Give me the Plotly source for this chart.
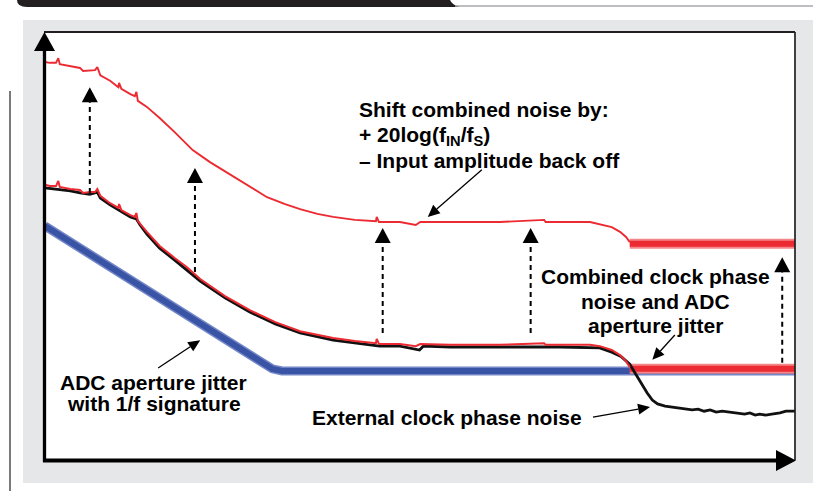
import math
import plotly.graph_objects as go

# 横轴: 相对频率位置 (0-100), 纵轴: 噪声电平 (任意单位 0-100)

# 上移后的组合噪声 (红色, 上)
shifted_x = [0.1, 0.8, 1.6, 1.9, 2.1, 3.5, 4.8, 5.2, 6.1, 6.8, 7.1, 7.5, 8.8, 9.9, 10.0, 10.3,
             11.5, 12.1, 12.3, 12.5, 13.7, 15.4, 17.4, 19.8, 22.1, 24.4, 26.8, 29.7, 32.1, 34.1,
             36.4, 38.5, 41.4, 44.2, 44.3, 44.6, 47.4, 49.5, 50.1, 54.1, 60.7, 66.6, 66.8, 72.7,
             74.0, 75.6, 76.7, 77.5, 78.0]
shifted_y = [93.0, 92.8, 92.8, 93.9, 92.5, 92.1, 91.6, 90.9, 91.1, 91.1, 91.8, 89.9, 88.6, 87.1,
             88.1, 86.7, 85.5, 85.0, 86.0, 83.9, 82.5, 79.9, 76.6, 72.4, 69.6, 67.1, 64.5, 61.4,
             59.8, 58.6, 57.5, 56.8, 56.1, 55.8, 56.8, 55.6, 55.6, 54.9, 55.6, 55.6, 55.6, 56.1,
             55.6, 55.6, 55.1, 54.4, 53.3, 52.1, 50.9]
shifted_floor_x = [78.0, 100]
shifted_floor_y = [50.5, 50.5]

# 时钟相位噪声 + ADC 孔径抖动 (红色, 下)
combined_x = [0.1, 0.8, 1.6, 1.9, 2.1, 3.5, 4.8, 5.2, 6.1, 6.8, 7.1, 7.5, 8.8, 9.9, 10.0, 10.3,
              11.5, 12.1, 12.3, 12.5, 13.7, 15.4, 17.4, 19.0, 20.8, 24.1, 27.4, 30.8, 34.1, 38.5,
              41.4, 44.2, 44.3, 44.6, 47.4, 49.5, 50.1, 54.1, 60.7, 66.6, 66.8, 72.7, 74.0, 75.6,
              76.7, 77.5, 78.0]
combined_y = [64.3, 64.0, 64.0, 65.2, 63.8, 63.3, 63.1, 62.4, 62.6, 62.6, 63.3, 61.7, 60.0, 58.9,
              59.8, 58.4, 57.2, 56.8, 57.7, 55.8, 53.3, 50.0, 47.2, 45.1, 42.3, 38.3, 35.0, 32.2,
              30.1, 28.5, 27.8, 27.3, 28.3, 27.1, 27.1, 26.6, 27.1, 26.9, 26.9, 27.3, 26.9, 26.9,
              26.6, 25.7, 24.5, 23.1, 21.7]
combined_floor_x = [78.0, 100]
combined_floor_y = [21.3, 21.3]

# 外部时钟相位噪声 (黑色)
clock_x = [0.1, 1.5, 2.1, 3.5, 4.8, 6.1, 7.1, 7.5, 8.8, 10.1, 11.5, 12.3, 12.8, 13.7, 15.4, 17.4,
           19.0, 20.8, 24.1, 27.4, 30.8, 34.1, 38.5, 41.4, 44.7, 47.4, 50.0, 50.5, 54.1, 60.7,
           68.7, 74.0, 75.6, 76.9, 78.0, 78.6, 79.4, 80.3, 81.0, 81.7, 82.7, 83.6, 84.4, 85.4,
           86.3, 87.1, 87.9, 88.7, 89.5, 90.3, 91.3, 92.4, 93.3, 94.0, 94.7, 95.3, 96.1, 96.9,
           98.0, 98.8, 100]
clock_y = [63.6, 63.3, 63.1, 62.9, 62.4, 62.1, 62.6, 61.2, 59.6, 58.2, 56.8, 56.3, 54.9, 52.8,
           49.5, 46.7, 44.4, 41.8, 37.9, 34.6, 31.8, 29.7, 28.0, 27.3, 26.6, 26.6, 25.7, 26.6,
           26.4, 26.4, 26.4, 26.2, 25.2, 24.1, 22.4, 20.6, 18.2, 15.7, 14.0, 13.1, 12.6, 12.4,
           12.1, 11.9, 11.7, 11.9, 11.4, 11.7, 11.2, 11.4, 11.2, 11.0, 10.7, 11.0, 10.5, 10.7,
           10.5, 10.7, 11.0, 11.4, 11.4]

# ADC 孔径抖动 (蓝色, 1/f 特征)
aperture_x = [0.1, 29.0, 30.4, 31.7, 100]
aperture_y = [54.7, 22.7, 21.3, 20.8, 20.8]

# 虚线箭头: x 位置, 起点, 终点
shift_arrow_x = [6.1, 20.1, 45.1, 64.8, 98.3]
shift_arrow_from = [62.4, 43.9, 29.7, 29.7, 22.7]
shift_arrow_to = [87.1, 68.2, 54.2, 54.2, 47.4]

shift_lines = ["Shift combined noise by:", "+ 20log(f<sub>IN</sub>/f<sub>S</sub>)",
               "\u2013 Input amplitude back off"]
combined_lines = ["Combined clock phase", "noise and ADC", "aperture jitter"]
aperture_lines = ["ADC aperture jitter", "with 1/f signature"]
clock_label = "External clock phase noise"

RED = "#ec2a31"
BLUE = "#3a54a5"
FONT = "Liberation Sans, Arial, sans-serif"

# 每个数据单位对应的像素 (绘图区 751 x 428 px)
X_PX = 7.51
Y_PX = 4.28


def px(x):
    """像素 -> paper x"""
    return (x - 44) / 751


def py(y):
    """像素 -> paper y"""
    return (460 - y) / 428


fig = go.Figure()

# 蓝色孔径抖动带
fig.add_trace(go.Scatter(x=aperture_x, y=aperture_y, mode="lines",
                         line=dict(color="#7387c8", width=9), hoverinfo="skip"))
fig.add_trace(go.Scatter(x=aperture_x, y=aperture_y, mode="lines",
                         line=dict(color=BLUE, width=6), hoverinfo="skip"))

# 红色噪声底
for fx, fy in [(shifted_floor_x, shifted_floor_y), (combined_floor_x, combined_floor_y)]:
    fig.add_trace(go.Scatter(x=fx, y=fy, mode="lines",
                             line=dict(color="#f4868a", width=10), hoverinfo="skip"))
    fig.add_trace(go.Scatter(x=fx, y=fy, mode="lines",
                             line=dict(color=RED, width=6), hoverinfo="skip"))

# 黑色外部时钟
fig.add_trace(go.Scatter(x=clock_x, y=clock_y, mode="lines",
                         line=dict(color="#111111", width=2.8), hoverinfo="skip"))
# 红色组合噪声
fig.add_trace(go.Scatter(x=combined_x, y=combined_y, mode="lines",
                         line=dict(color=RED, width=2), hoverinfo="skip"))
fig.add_trace(go.Scatter(x=shifted_x, y=shifted_y, mode="lines",
                         line=dict(color=RED, width=1.9), hoverinfo="skip"))

shapes = []
# 灰色底板 + 白色绘图区
shapes.append(dict(type="rect", xref="paper", yref="paper", x0=px(23), x1=px(820),
                   y0=py(483), y1=py(20), fillcolor="#e6e7e8", line_width=0, layer="below"))
shapes.append(dict(type="rect", xref="paper", yref="paper", x0=0, x1=1, y0=0, y1=1,
                   fillcolor="white", line_width=0, layer="below"))
# 左侧竖线
shapes.append(dict(type="line", xref="paper", yref="paper", x0=px(10), x1=px(10),
                   y0=py(91), y1=py(495), line=dict(color="#7a7a7a", width=2)))
# 顶部深色标题条
shapes.append(dict(type="path", xref="paper", yref="paper",
                   path=f"M{px(17)},{py(-4)} L{px(17)},{py(0)} Q{px(17)},{py(7)} {px(27)},{py(7)} "
                        f"L{px(460)},{py(7)} Q{px(452)},{py(5)} {px(450)},{py(0)} L{px(450)},{py(-4)} Z",
                   fillcolor="#231f20", line_width=0))
shapes.append(dict(type="line", xref="paper", yref="paper", x0=px(455), x1=px(820),
                   y0=py(6), y1=py(6), line=dict(color="#a7a9ac", width=1.5)))
# 边框与坐标轴
shapes.append(dict(type="line", xref="paper", yref="paper", x0=0, x1=1, y0=1, y1=1,
                   line=dict(color="#231f20", width=2)))
shapes.append(dict(type="line", xref="paper", yref="paper", x0=1, x1=1, y0=0, y1=1,
                   line=dict(color="#231f20", width=1.7)))
shapes.append(dict(type="line", xref="paper", yref="paper", x0=px(44.5), x1=px(44.5),
                   y0=py(462), y1=py(48), line=dict(color="black", width=3.3)))
shapes.append(dict(type="line", xref="paper", yref="paper", x0=px(43), x1=px(780),
                   y0=py(460.5), y1=py(460.5), line=dict(color="black", width=4)))
shapes.append(dict(type="path", xref="paper", yref="paper",
                   path=f"M{px(44.5)},{py(32)} L{px(34)},{py(51)} L{px(55)},{py(51)} Z",
                   fillcolor="black", line_width=0))
shapes.append(dict(type="path", xref="paper", yref="paper",
                   path=f"M{px(796)},{py(460.5)} L{px(776)},{py(450)} L{px(776)},{py(471)} Z",
                   fillcolor="black", line_width=0))


def add_arrow(tx, ty, hx, hy, head_len, head_half, width, dash=None):
    """从 (tx,ty) 指向 (hx,hy) 的箭头, 箭头尺寸按像素算"""
    dx = (hx - tx) * X_PX
    dy = (hy - ty) * Y_PX
    n = math.hypot(dx, dy)
    ux, uy = dx / n, dy / n
    bx = hx - ux * head_len / X_PX
    by = hy - uy * head_len / Y_PX
    lx, ly = bx - uy * head_half / X_PX, by + ux * head_half / Y_PX
    rx, ry = bx + uy * head_half / X_PX, by - ux * head_half / Y_PX
    line = dict(color="black", width=width)
    if dash:
        line["dash"] = dash
    shapes.append(dict(type="line", xref="x", yref="y", x0=tx, y0=ty, x1=bx, y1=by, line=line))
    shapes.append(dict(type="path", xref="x", yref="y",
                       path=f"M{hx},{hy} L{lx},{ly} L{rx},{ry} Z",
                       fillcolor="black", line_width=0))


# 虚线上移箭头
for xa, y0, y1 in zip(shift_arrow_x, shift_arrow_from, shift_arrow_to):
    add_arrow(xa, y0, xa, y1, 15, 8, 2, dash="5px,4px")

# 指示箭头 (尾 -> 头)
pointers = [((58.3, 67.8), (51.1, 56.8)),
            ((84.0, 29.2), (81.0, 23.4)),
            ((15.2, 21.5), (20.8, 28.0)),
            ((73.1, 10.0), (80.7, 12.4))]
for (tx, ty), (hx, hy) in pointers:
    add_arrow(tx, ty, hx, hy, 12, 5.5, 1.3)

annotations = []
text_font = dict(family=FONT, size=21, color="#000000", weight="bold")


def add_lines(lines, x, ys, anchor):
    for t, yy in zip(lines, ys):
        annotations.append(dict(x=x, y=yy, xref="x", yref="y", text=t, showarrow=False,
                                xanchor=anchor, yanchor="middle", font=text_font))


add_lines(shift_lines, 41.7, [81.8, 75.7, 69.9], "left")
add_lines(combined_lines, 81.4, [42.8, 37.1, 31.5], "center")
add_lines(aperture_lines, 14.6, [18.2, 13.1], "center")
add_lines([clock_label], 53.7, [10.0], "center")

fig.update_layout(
    width=813, height=491,
    margin=dict(l=44, r=18, t=32, b=31),
    paper_bgcolor="white", plot_bgcolor="white",
    showlegend=False,
    xaxis=dict(range=[0, 100], visible=False, fixedrange=True),
    yaxis=dict(range=[0, 100], visible=False, fixedrange=True),
    shapes=shapes,
    annotations=annotations,
)

# 去掉页面默认的 body 边距, 让图从窗口左上角开始
fig.write_html("out.html", config={"displayModeBar": False},
               post_script="document.body.style.margin='0';")
